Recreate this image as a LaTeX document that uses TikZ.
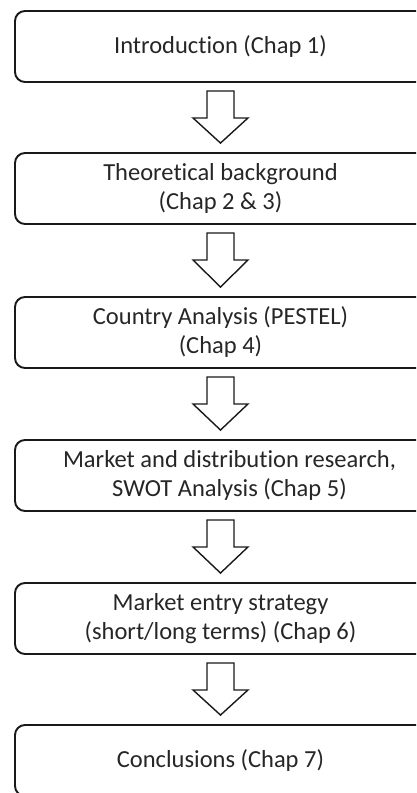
\documentclass[tikz,border=0pt]{standalone}
\usepackage{fontspec}
\setmainfont{Carlito}[Ligatures=NoCommon]
\usetikzlibrary{calc}
\begin{document}
\begin{tikzpicture}[x=1pt,y=-1pt,
  stage/.style={draw=black!90,line width=1.9pt,rounded corners=10pt,
    minimum width=411pt,minimum height=71pt,inner sep=0pt,align=center,
    text=black!85,font=\fontsize{24.5}{29}\selectfont},
  barrow/.style={draw=black!90,line width=1.4pt,fill=white,line join=miter}]
\useasboundingbox (0,0) rectangle (416,793);
\begin{scope}
\clip (0,0) rectangle (416,793);
\node[stage] (b1) at (220.5,46.5) {Introduction (Chap 1)};
\node[stage] (b2) at (220.5,188.5) {Theoretical background\\(Chap 2 \& 3)};
\node[stage] (b3) at (220.5,332.5) {Country Analysis (PESTEL)\\(Chap 4)};
\node[stage] (b4) at (220.5,475.5) {\hspace*{18pt}Market and distribution research,\\\hspace*{18pt}SWOT Analysis (Chap 5)};
\node[stage] (b5) at (220.5,618.5) {Market entry strategy\\(short/long terms) (Chap 6)};
\node[stage] (b6) at (220.5,760.5) {Conclusions (Chap 7)};
\foreach \a/\b in {b1/b2,b2/b3,b3/b4,b4/b5,b5/b6}{
  \draw[barrow] ($(\a.south)+(-13.5,8)$) -- ($(\a.south)+(13.5,8)$)
    -- ($(\a.south)+(13.5,35)$) -- ($(\a.south)+(27.5,35)$)
    -- ($(\b.north)+(0,-9)$)
    -- ($(\a.south)+(-27.5,35)$) -- ($(\a.south)+(-13.5,35)$) -- cycle;
}
\end{scope}
\end{tikzpicture}
\end{document}
